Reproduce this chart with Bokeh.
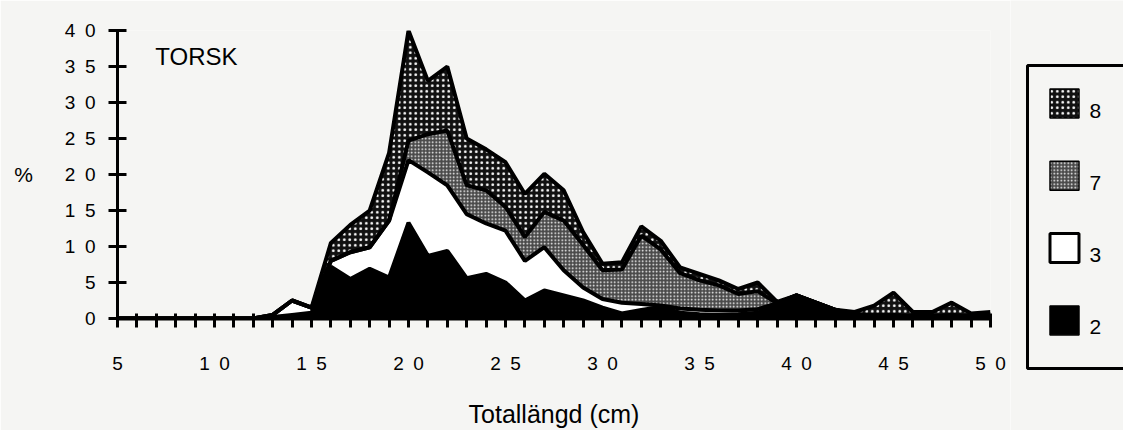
import numpy as np
from bokeh.plotting import figure
from bokeh.layouts import row, column
from bokeh.models import FixedTicker, Label, ColumnDataSource, Range1d
from bokeh.core.properties import value
from bokeh.embed import file_html
from bokeh.resources import INLINE

# ---- data (percent per 1 cm length class, stacked groups) ----
length_cm = list(range(5, 51))
grp2 = [0, 0, 0, 0, 0, 0, 0, 0,
        0.2, 0.5, 0.8, 7.2, 5.5, 6.9, 5.7, 13.3, 8.7, 9.4, 5.6, 6.2,
        5.0, 2.5, 3.9, 3.2, 2.5, 1.5, 0.7, 1.2, 1.6, 0.8, 0.6, 0.5,
        0.6, 0.8, 2.1, 3.2, 2.2, 1.2, 0.6, 0.4, 0.4, 0.3, 0.3, 0.4, 0.3, 0.3]
grp3 = [0, 0, 0, 0, 0, 0, 0, 0,
        0.3, 2.0, 0.7, 0.8, 3.7, 3.0, 7.9, 8.7, 11.6, 9.1, 8.9, 7.0,
        7.2, 5.5, 6.0, 3.5, 1.8, 1.2, 1.5, 0.8, 0.2, 0.6, 0.6, 0.6,
        0.5, 0.5, 0, 0, 0, 0, 0, 0, 0, 0, 0, 0, 0, 0]
grp7 = [0, 0, 0, 0, 0, 0, 0, 0, 0, 0, 0, 0, 0, 0, 0,
        2.7, 5.3, 7.6, 4.0, 4.6, 3.3, 3.3, 4.9, 6.9, 5.9, 4.0, 4.6,
        9.5, 7.8, 4.9, 4.1, 3.5, 2.3, 2.5, 0, 0, 0, 0, 0, 0, 0, 0, 0, 0, 0, 0]
grp8 = [0, 0, 0, 0, 0, 0, 0, 0, 0, 0, 0,
        2.5, 3.8, 5.1, 9.4, 15.3, 7.4, 8.9, 6.5, 5.7, 6.2, 6.0, 5.3,
        4.2, 1.8, 0.9, 1.0, 1.3, 1.2, 0.8, 0.9, 0.7, 0.7, 1.2, 0.2,
        0, 0, 0, 0.3, 1.4, 3.2, 0.6, 0.6, 1.8, 0.4, 0.6]

series_names = ["8", "7", "3", "2"]
x_ticks = list(range(5, 51))
x_label_values = [5, 10, 15, 20, 25, 30, 35, 40, 45, 50]
x_label_texts = ["5", "1\u20020", "1\u20025", "2\u20020", "2\u20025", "3\u20020",
                 "3\u20025", "4\u20020", "4\u20025", "5\u20020"]
y_ticks = [0, 5, 10, 15, 20, 25, 30, 35, 40]
y_label_texts = ["0", "5", "1\u20020", "1\u20025", "2\u20020", "2\u20025",
                 "3\u20020", "3\u20025", "4\u20020"]
title_text = "TORSK"
x_title = "Totallängd (cm)"
y_title = "%"

# ---- stacking ----
x = np.array(length_cm, dtype=float)
c2 = np.array(grp2)
c3 = c2 + np.array(grp3)
c7 = c3 + np.array(grp7)
c8 = c7 + np.array(grp8)
src = ColumnDataSource(dict(x=x, z=np.zeros_like(x), c2=c2, c3=c3, c7=c7, c8=c8))

PAPER = "#f5f5f3"
FONT = "Liberation Sans"
STYLES = {
    "8": dict(fill_color="#111111", hatch_pattern="dot", hatch_color="white",
              hatch_scale=5.5, hatch_weight=1),
    "7": dict(fill_color="#4a4a4a", hatch_pattern="dot", hatch_color="white",
              hatch_scale=3.5, hatch_weight=1),
    "3": dict(fill_color="white"),
    "2": dict(fill_color="black"),
}

MAIN_W, LEG_W, H = 1010, 113, 430
p = figure(width=MAIN_W, height=H, x_range=(5, 50), y_range=(0, 40),
           output_backend="svg", toolbar_location=None,
           min_border_left=117, min_border_right=MAIN_W - 990,
           min_border_top=30, min_border_bottom=112)
p.background_fill_color = PAPER
p.border_fill_color = PAPER
p.outline_line_color = None
p.grid.visible = False

# bands
p.varea(x="x", y1="z", y2="c2", source=src, **STYLES["2"])
p.varea(x="x", y1="c2", y2="c3", source=src, **STYLES["3"])
p.varea(x="x", y1="c3", y2="c7", source=src, **STYLES["7"])
p.varea(x="x", y1="c7", y2="c8", source=src, **STYLES["8"])
for col in ["c2", "c3", "c7", "c8"]:
    p.line(x="x", y=col, source=src, line_color="black", line_width=4)

# axes
xa = p.xaxis[0]
xa.ticker = FixedTicker(ticks=x_ticks)
ov = {t: "" for t in x_ticks}
ov.update({v: s for v, s in zip(x_label_values, x_label_texts)})
xa.major_label_overrides = ov
xa.axis_line_width = 4
xa.major_tick_line_width = 3
xa.major_tick_in = 5
xa.major_tick_out = 9
xa.minor_tick_line_color = None
xa.major_label_standoff = 25
xa.major_label_text_font = FONT
xa.major_label_text_font_size = "19px"
xa.major_label_text_color = "black"
xa.axis_label = x_title
xa.axis_label_text_font = FONT
xa.axis_label_text_font_size = "25px"
xa.axis_label_text_font_style = "normal"
xa.axis_label_text_color = "black"
xa.axis_label_standoff = 23

ya = p.yaxis[0]
ya.ticker = FixedTicker(ticks=y_ticks)
ya.major_label_overrides = {v: s for v, s in zip(y_ticks, y_label_texts)}
ya.axis_line_width = 3
ya.major_tick_line_width = 3
ya.major_tick_in = 9
ya.major_tick_out = 9
ya.minor_tick_line_color = None
ya.major_label_standoff = 13
ya.major_label_text_font = FONT
ya.major_label_text_font_size = "19px"
ya.major_label_text_color = "black"
ya.axis_label = y_title
ya.axis_label_orientation = "horizontal"
ya.axis_label_text_font = FONT
ya.axis_label_text_font_size = "21px"
ya.axis_label_text_font_style = "normal"
ya.axis_label_text_color = "black"
ya.axis_label_standoff = 29

p.add_layout(Label(x=6.95, y=36.4, text=title_text, text_font=FONT,
                   text_font_size="24px", text_color="black",
                   text_baseline="middle"))

# ---- legend panel (x = page px, y = page px from top) ----
lg = figure(width=LEG_W, height=H, x_range=Range1d(MAIN_W, MAIN_W + LEG_W),
            y_range=Range1d(H, 0), output_backend="svg", toolbar_location=None,
            x_axis_type=None, y_axis_type=None, min_border=0)
lg.background_fill_color = PAPER
lg.border_fill_color = PAPER
lg.outline_line_color = None
lg.grid.visible = False

box_left, box_top, box_bottom = 1027, 65, 368
lg.quad(left=[box_left], right=[MAIN_W + LEG_W + 20], top=[box_top], bottom=[box_bottom],
        fill_color=PAPER, line_color="black", line_width=3)

sq_x, sq_size, first_cy, pitch = 1064, 29, 103, 72.3
for i, name in enumerate(series_names):
    cy = first_cy + i * pitch
    lg.rect(x=[sq_x], y=[cy], width=sq_size, height=sq_size,
            line_color="black", line_width=3 if name == "3" else 1.5,
            **STYLES[name])
    lg.text(x=[1089], y=[cy + 7], text=[name],
            text_font=value(FONT), text_font_size="21px", text_color="black",
            text_baseline="middle", text_align="left")

layout = row(p, column(lg, spacing=0), spacing=0)
open("out.html", "w").write(file_html(layout, INLINE))
